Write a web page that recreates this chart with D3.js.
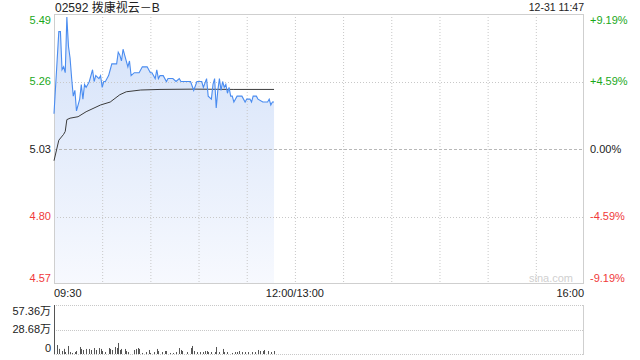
<!DOCTYPE html>
<html><head><meta charset="utf-8">
<script src="https://cdn.jsdelivr.net/npm/d3@7"></script>
<style>
html,body{margin:0;padding:0;background:#fff;}
svg{display:block;font-family:"Liberation Sans",Arial,"Noto Sans CJK SC",sans-serif;}
</style></head>
<body><svg id="c" width="640" height="360"></svg>
<script>
const title = "02592 拨康视云－B";
const stamp = "12-31 11:47";
const prevClose = 5.03;
const priceTicks = [5.49, 5.26, 5.03, 4.80, 4.57];
const pctTicks = ["+9.19%", "+4.59%", "0.00%", "-4.59%", "-9.19%"];
const timeLabels = ["09:30", "12:00/13:00", "16:00"];
const timeLabelMin = [0, 150, 330];
const volTicks = [57.36, 28.68, 0];
const volTickLabels = ["57.36万", "28.68万", "0"];
// minutes after 09:30 and price
const priceMin = [0,3,4,5,6,7,8,9,10,11,12,13,14,16,17,18,19,20,21,22,24,25,26,28,29,30,31,32,34,35,36,38,39,40,41,42,43,44,46,47,48,50,52,53,55,58,60,61,63,64,65,66,68,70,71,74,76,78,79,81,83,85,87,89,92,93,95,96,98,99,100,101,102,103,104,105,106,107,108,109,110,111,112,114,117,119,120,122,123,124,126,127,130,133,134,135,136,137];
const price = [5.15,5.43,5.43,5.30,5.31,5.29,5.48,5.38,5.34,5.27,5.21,5.23,5.16,5.20,5.25,5.20,5.25,5.24,5.25,5.26,5.30,5.26,5.28,5.27,5.28,5.24,5.26,5.26,5.28,5.30,5.32,5.32,5.32,5.36,5.35,5.33,5.37,5.35,5.31,5.33,5.28,5.29,5.29,5.29,5.31,5.31,5.29,5.29,5.27,5.30,5.27,5.28,5.28,5.26,5.27,5.27,5.26,5.27,5.26,5.26,5.26,5.26,5.23,5.26,5.26,5.24,5.27,5.21,5.20,5.25,5.27,5.17,5.23,5.27,5.23,5.26,5.24,5.25,5.22,5.24,5.21,5.21,5.19,5.21,5.21,5.19,5.20,5.20,5.19,5.21,5.21,5.20,5.19,5.19,5.20,5.18,5.19,5.19];
const avgMin = [0,3,6,7,8,10,15,20,29,35,41,45,54,66,87,112,137];
const avgPrice = [4.99,5.06,5.08,5.09,5.13,5.135,5.14,5.157,5.18,5.19,5.215,5.225,5.231,5.233,5.234,5.233,5.233];
// volume in 万
const volMin = [0,2,3,5,6,7,9,10,11,13,14,16,17,18,20,22,23,25,26,28,29,30,32,34,35,36,38,39,40,41,42,44,45,46,50,51,52,53,55,57,59,60,62,64,65,67,69,70,72,74,76,78,79,80,83,85,86,87,89,91,93,94,95,96,98,100,101,103,105,106,108,111,113,114,115,117,119,121,123,125,127,128,130,131,133,135,137];
const vol = [57.36,10.5,6,3.5,6,2.3,9.4,2.3,1.2,2.3,3.5,8.2,5.9,4.7,5.9,5.9,4.7,7,4.7,7,5.9,3.5,2.3,7,5.9,4.7,8.2,7,12.9,4.7,5.9,5.9,3.5,2.3,4.7,5.9,7,5.9,1.2,2.3,4.7,1.2,2.3,5.9,3.5,2.3,3.5,3.5,1.2,1.2,2.3,7,4.7,3.5,2.3,7,9.4,3.5,2.3,2.3,2.3,3.5,3.5,2.3,2.3,2.3,8.2,2.3,5.9,2.3,2.3,1.2,2.3,2.3,3.5,2.3,2.3,2.3,2.3,2.3,4.7,3.5,3.5,4.7,3.5,2.3,3.5];

const svg = d3.select("#c");
const L = 54, R = 584, T = 14, B = 284;
const VT = 305, VB = 354;
const green = "#1aa81a", red = "#f03a3a", grid = "#c8c8c8";

const x = d3.scaleLinear().domain([0, 330]).range([L, R]);
const y = d3.scaleLinear().domain([4.57, 5.49]).range([B, T]);
const yv = d3.scaleLinear().domain([0, 57.36]).range([VB, VT]);

// gradient
const defs = svg.append("defs");
const g = defs.append("linearGradient").attr("id","fillg").attr("gradientUnits","userSpaceOnUse")
  .attr("x1",0).attr("x2",0).attr("y1",T).attr("y2",B);
g.append("stop").attr("offset","0").attr("stop-color","#d3e1f9");
g.append("stop").attr("offset","1").attr("stop-color","#f7f9fe");

const pts = priceMin.map((m,i)=>[m, price[i]]);
const area = d3.area().x(d=>x(d[0])).y0(B).y1(d=>y(d[1]));
svg.append("path").datum(pts).attr("d", area).attr("fill","url(#fillg)");

// vertical grid
const vMins = d3.range(30, 330, 30);
svg.append("g").selectAll("line").data(vMins).join("line")
  .attr("x1", d=>x(d)+0.5).attr("x2", d=>x(d)+0.5).attr("y1", T).attr("y2", B)
  .attr("stroke", grid).attr("stroke-dasharray","1,2");
// horizontal grid
priceTicks.forEach(p=>{
  if (p===5.49 || p===4.57) return;
  svg.append("line").attr("x1",L).attr("x2",R).attr("y1",Math.round(y(p))+0.5).attr("y2",Math.round(y(p))+0.5)
    .attr("stroke", p===prevClose ? "#b8b8b8" : grid).attr("stroke-dasharray", p===prevClose ? "3,2" : "1,2");
});

// border
svg.append("rect").attr("x",L+0.5).attr("y",T+0.5).attr("width",R-L-1).attr("height",B-T-1)
  .attr("fill","none").attr("stroke","#cfcfcf");

// avg line
svg.append("path").datum(avgMin.map((m,i)=>[m,avgPrice[i]]))
  .attr("d", d3.line().x(d=>x(d[0])).y(d=>y(d[1])))
  .attr("fill","none").attr("stroke","#3c3c3c").attr("stroke-width",1);
// price line
svg.append("path").datum(pts)
  .attr("d", d3.line().x(d=>x(d[0])).y(d=>y(d[1])))
  .attr("fill","none").attr("stroke","#4a8cf0").attr("stroke-width",1.1);

// labels left
const lblCol = p => p>prevClose ? green : (p<prevClose ? red : "#222");
const lblY = (p,i) => i===0 ? y(p)+6 : (i===priceTicks.length-1 ? y(p)-6 : y(p));
svg.append("g").selectAll("text").data(priceTicks).join("text")
  .attr("x", 51).attr("y", (d,i)=>lblY(d,i)).attr("dy","0.35em").attr("text-anchor","end")
  .attr("font-size", 11).attr("fill", d=>lblCol(d)).text(d=>d.toFixed(2));
svg.append("g").selectAll("text").data(pctTicks).join("text")
  .attr("x", 590).attr("y", (d,i)=>lblY(priceTicks[i],i)).attr("dy","0.35em")
  .attr("font-size", 11).attr("fill", (d,i)=>lblCol(priceTicks[i])).text(d=>d);

// title
svg.append("text").attr("x",55).attr("y",12).attr("font-size",12).attr("fill","#222").text(title);
svg.append("text").attr("x",584).attr("y",11).attr("text-anchor","end").attr("font-size",10.5).attr("fill","#222").text(stamp);

// time labels
svg.append("g").selectAll("text").data(timeLabels).join("text")
  .attr("x",(d,i)=>x(timeLabelMin[i])).attr("y",297)
  .attr("text-anchor",(d,i)=>i===0?"start":(i===2?"end":"middle"))
  .attr("font-size",11).attr("fill","#222").text(d=>d);

// watermark
svg.append("text").attr("x",573).attr("y",282).attr("text-anchor","end").attr("font-size",11)
  .attr("fill","#d0d0d0").text("sina.com");

// volume panel
svg.append("g").selectAll("line").data(volTicks).join("line")
  .attr("x1",L).attr("x2",R).attr("y1",d=>Math.round(yv(d))+0.5).attr("y2",d=>Math.round(yv(d))+0.5)
  .attr("stroke",grid).attr("stroke-dasharray","1,1");
svg.append("line").attr("x1",R-0.5).attr("x2",R-0.5).attr("y1",VT).attr("y2",VB+1).attr("stroke","#cfcfcf");
svg.append("g").selectAll("line").data(volMin.map((m,i)=>[m,vol[i]])).join("line")
  .attr("x1",d=>Math.round(x(d[0]))+0.5).attr("x2",d=>Math.round(x(d[0]))+0.5)
  .attr("y1",VB).attr("y2",d=>yv(d[1])).attr("stroke","#555").attr("stroke-width",1);
svg.append("g").selectAll("text").data(volTickLabels).join("text")
  .attr("x",51).attr("y",(d,i)=> i===0 ? yv(volTicks[i])+6 : (i===2 ? yv(volTicks[i])-6 : yv(volTicks[i])))
  .attr("dy","0.35em").attr("text-anchor","end").attr("font-size",11).attr("fill","#222").text(d=>d);
</script></body></html>
